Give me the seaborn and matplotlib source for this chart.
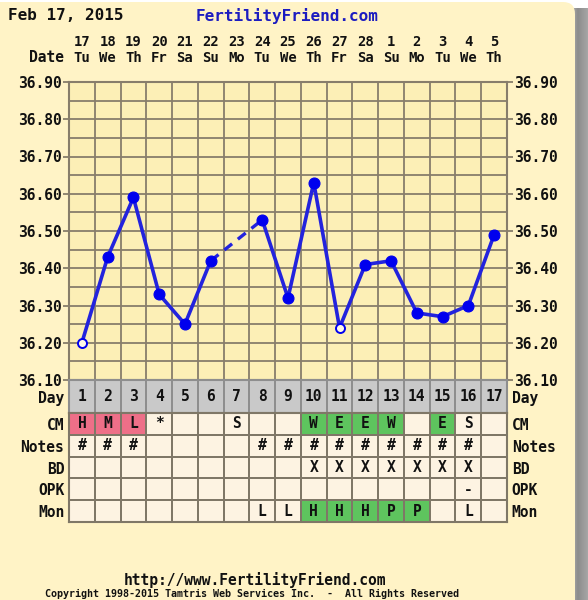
import numpy as np
import pandas as pd
import matplotlib
matplotlib.use("Agg")
import matplotlib.pyplot as plt
import seaborn as sns
from matplotlib.colors import ListedColormap, LinearSegmentedColormap
from matplotlib.patches import FancyBboxPatch

# ---------------- data ----------------
days = list(range(1, 18))
dates = ["17", "18", "19", "20", "21", "22", "23", "24", "25", "26", "27", "28", "1", "2", "3", "4", "5"]
weekdays = ["Tu", "We", "Th", "Fr", "Sa", "Su", "Mo", "Tu", "We", "Th", "Fr", "Sa", "Su", "Mo", "Tu", "We", "Th"]
temps = [36.20, 36.43, 36.59, 36.33, 36.25, 36.42, np.nan, 36.53, 36.32, 36.63,
         36.24, 36.41, 36.42, 36.28, 36.27, 36.30, 36.49]
open_days = [1, 11]          # discarded temps (open circles)
y_ticks = [36.10, 36.20, 36.30, 36.40, 36.50, 36.60, 36.70, 36.80, 36.90]

row_names = ["CM", "Notes", "BD", "OPK", "Mon"]
cm = ["H", "M", "L", "*", "", "", "S", "", "", "W", "E", "E", "W", "", "E", "S", ""]
notes = ["#", "#", "#", "", "", "", "", "#", "#", "#", "#", "#", "#", "#", "#", "#", ""]
bd = ["", "", "", "", "", "", "", "", "", "X", "X", "X", "X", "X", "X", "X", ""]
opk = ["", "", "", "", "", "", "", "", "", "", "", "", "", "", "", "-", ""]
mon = ["", "", "", "", "", "", "", "L", "L", "H", "H", "H", "P", "P", "", "L", ""]
# 0 = plain, 1 = pink, 2 = green
cm_flag = [1, 1, 1, 0, 0, 0, 0, 0, 0, 2, 2, 2, 2, 0, 2, 0, 0]
mon_flag = [0, 0, 0, 0, 0, 0, 0, 0, 0, 2, 2, 2, 2, 2, 0, 0, 0]

# ---------------- style ----------------
sns.set_theme(style="white")
plt.rcParams["font.family"] = ["DejaVu Sans Mono", "DejaVu Sans"]
plt.rcParams["font.weight"] = "bold"

CARD = "#FFF3C6"
PLOTBG = "#FCEFB6"
CELL = "#FDF3E2"
PINK = "#EE6F88"
GREEN = "#5EC45E"
GRAYROW = "#C9C9C9"
GRID = "#877D6B"
LINE = "#2323DD"
MARK = "#0000EE"
TXT = "#111111"

W, H = 588, 600
fig = plt.figure(figsize=(W / 100, H / 100), dpi=100)
fig.patch.set_facecolor("white")

# background card with shadow
bg = fig.add_axes([0, 0, 1, 1])
bg.set_xlim(0, W)
bg.set_ylim(H, 0)
bg.axis("off")
shade = LinearSegmentedColormap.from_list("s", ["#c4c4c4", "#8c8c8c", "#a6a6a6"])
bg.imshow(np.linspace(0, 1, 50).reshape(1, -1), extent=[568, 588, H, 8],
          cmap=shade, aspect="auto", zorder=0)
bg.add_patch(FancyBboxPatch((-30, 2), 30 + 575, 700,
                            boxstyle="round,pad=0,rounding_size=12",
                            fc=CARD, ec="none", zorder=1))


def px(x0, y0, w, h):
    return [x0 / W, 1 - (y0 + h) / H, w / W, h / H]


# ---------------- temperature chart ----------------
ax = fig.add_axes(px(69, 82, 438, 298))
ax.set_facecolor(PLOTBG)
df = pd.DataFrame({"day": days, "temp": temps})
seg1 = df[df.day <= 6]
seg2 = df[df.day >= 8]
bridge = df[df.day.isin([6, 8])]
sns.lineplot(data=seg1, x="day", y="temp", color=LINE, lw=2.6, ax=ax, errorbar=None)
sns.lineplot(data=seg2, x="day", y="temp", color=LINE, lw=2.6, ax=ax, errorbar=None)
sns.lineplot(data=bridge, x="day", y="temp", color=LINE, lw=2.4, ax=ax,
             errorbar=None, linestyle=(0, (3, 2.2)))
filled = df[~df.day.isin(open_days) & df.temp.notna()]
hollow = df[df.day.isin(open_days)]
sns.scatterplot(data=filled, x="day", y="temp", s=62, color=MARK, edgecolor=MARK,
                linewidth=0.8, ax=ax, zorder=5)
sns.scatterplot(data=hollow, x="day", y="temp", s=42, color="#FFF8E6", edgecolor=MARK,
                linewidth=1.4, ax=ax, zorder=5)

ax.set_xlim(0.5, 17.5)
ax.set_ylim(36.10, 36.90)
ax.set_yticks(y_ticks, labels=[f"{v:.2f}" for v in y_ticks])
ax.set_yticks(np.round(np.array(y_ticks[:-1]) + 0.05, 2), minor=True)
ax.set_xticks(days, labels=[f"{d}\n{w}" for d, w in zip(dates, weekdays)])
ax.set_xticks(np.arange(0.5, 18, 1.0), minor=True)
for lbl in ax.get_xticklabels():
    lbl.set_linespacing(1.25)
ax.grid(True, which="both", axis="y", color=GRID, lw=1.3)
ax.grid(True, which="minor", axis="x", color=GRID, lw=1.3)
ax.grid(False, which="major", axis="x")
ax.tick_params(axis="x", which="both", bottom=False, top=False, labelbottom=False,
               labeltop=True, pad=6, labelsize=10, labelcolor=TXT)
ax.tick_params(axis="y", which="major", left=True, right=True, labelleft=True,
               labelright=True, length=4, width=1.3, color=GRID, pad=1,
               labelsize=10.5, labelcolor=TXT)
ax.tick_params(axis="y", which="minor", length=0)
for sp in ax.spines.values():
    sp.set_visible(True)
    sp.set_color(GRID)
    sp.set_linewidth(1.5)
ax.set_xlabel("")
ax.set_ylabel("")

# ---------------- Day row ----------------
dax = fig.add_axes(px(69, 380, 438, 33))
day_df = pd.DataFrame([np.zeros(17)], index=["Day"], columns=days)
sns.heatmap(day_df, cmap=ListedColormap([GRAYROW]), cbar=False,
            annot=np.array([[str(d) for d in days]]), fmt="",
            linewidths=1.3, linecolor="#8E8E8E", ax=dax,
            annot_kws=dict(fontsize=10.5, fontweight="bold", color=TXT))

# ---------------- chart rows ----------------
lax = fig.add_axes(px(69, 413, 438, 109))
flags = pd.DataFrame([cm_flag, [0] * 17, [0] * 17, [0] * 17, mon_flag],
                     index=row_names, columns=days)
texts = np.array([cm, notes, bd, opk, mon])
sns.heatmap(flags, cmap=ListedColormap([CELL, PINK, GREEN]), vmin=-0.5, vmax=2.5,
            cbar=False, annot=texts, fmt="", linewidths=1.3, linecolor="#7F7767",
            ax=lax, annot_kws=dict(fontsize=10.5, fontweight="bold", color=TXT))

for a, sc in ((dax, "#8E8E8E"), (lax, "#7F7767")):
    a.set_xticks([])
    a.set_xlabel("")
    a.set_ylabel("")
    a.tick_params(axis="y", left=False, right=False, labelleft=True, labelright=True,
                  pad=3.5, labelsize=10.5, labelcolor=TXT, length=0)
    for lbl in a.get_yticklabels():
        lbl.set_rotation(0)
        lbl.set_verticalalignment("center_baseline")
    for sp in a.spines.values():
        sp.set_visible(True)
        sp.set_color(sc)
        sp.set_linewidth(1.5)

# ---------------- header / footer text ----------------
fig.text(8 / W, 1 - 16 / H, "Feb 17, 2015", ha="left", va="center", fontsize=11.5, color=TXT)
fig.text(287 / W, 1 - 16 / H, "FertilityFriend.com", ha="center", va="center",
         fontsize=11.5, color="#1C1CC0")
fig.text(64 / W, 1 - 57 / H, "Date", ha="right", va="center", fontsize=10.5, color=TXT)
fig.text(255 / W, 1 - 580 / H, "http://www.FertilityFriend.com", ha="center", va="center",
         fontsize=10.5, color=TXT)
fig.text(252 / W, 1 - 594 / H,
         "Copyright 1998-2015 Tamtris Web Services Inc.  -  All Rights Reserved",
         ha="center", va="center", fontsize=7.2, color=TXT)

fig.savefig("out.png", dpi=100)
